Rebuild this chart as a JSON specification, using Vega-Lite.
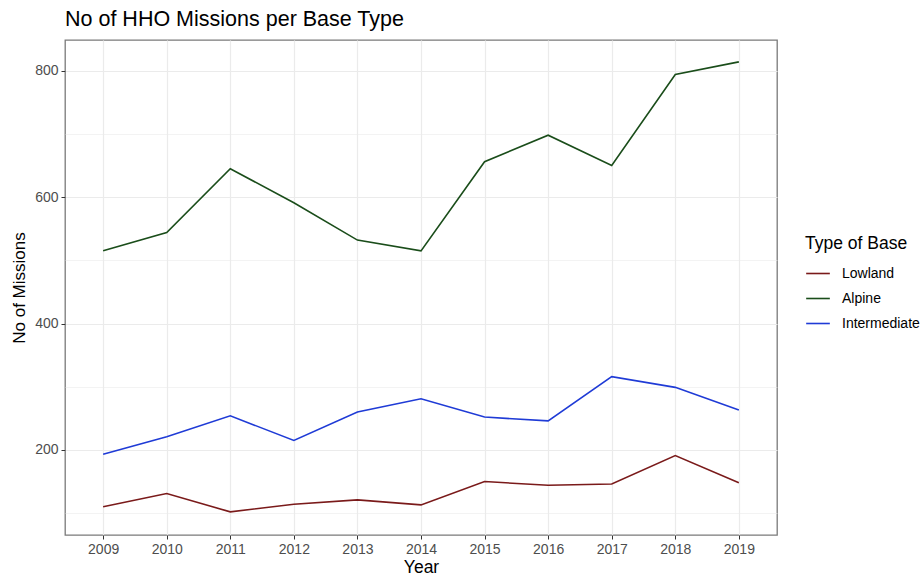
{
  "$schema": "https://vega.github.io/schema/vega-lite/v6.json",
  "width": 712,
  "height": 495,
  "autosize": {"type": "none"},
  "padding": {"left": 65, "top": 40, "right": 145, "bottom": 43},
  "background": "white",
  "title": {"text": "No of HHO Missions per Base Type", "anchor": "start", "frame": "group", "fontSize": 21.5, "font": "Liberation Sans", "fontWeight": "normal", "color": "#000000", "offset": 10},
  "config": {
    "font": "Liberation Sans",
    "view": {"stroke": "#7a7a7a", "strokeWidth": 1.3}
  },
  "data": {
    "values": [
      {"Year": 2009, "Base": "Lowland", "Missions": 110},
      {"Year": 2010, "Base": "Lowland", "Missions": 131},
      {"Year": 2011, "Base": "Lowland", "Missions": 102},
      {"Year": 2012, "Base": "Lowland", "Missions": 114},
      {"Year": 2013, "Base": "Lowland", "Missions": 121},
      {"Year": 2014, "Base": "Lowland", "Missions": 113},
      {"Year": 2015, "Base": "Lowland", "Missions": 150},
      {"Year": 2016, "Base": "Lowland", "Missions": 144},
      {"Year": 2017, "Base": "Lowland", "Missions": 146},
      {"Year": 2018, "Base": "Lowland", "Missions": 191},
      {"Year": 2019, "Base": "Lowland", "Missions": 148},
      {"Year": 2009, "Base": "Alpine", "Missions": 515},
      {"Year": 2010, "Base": "Alpine", "Missions": 544},
      {"Year": 2011, "Base": "Alpine", "Missions": 645},
      {"Year": 2012, "Base": "Alpine", "Missions": 591},
      {"Year": 2013, "Base": "Alpine", "Missions": 532},
      {"Year": 2014, "Base": "Alpine", "Missions": 515},
      {"Year": 2015, "Base": "Alpine", "Missions": 656},
      {"Year": 2016, "Base": "Alpine", "Missions": 698},
      {"Year": 2017, "Base": "Alpine", "Missions": 650},
      {"Year": 2018, "Base": "Alpine", "Missions": 794},
      {"Year": 2019, "Base": "Alpine", "Missions": 814},
      {"Year": 2009, "Base": "Intermediate", "Missions": 193},
      {"Year": 2010, "Base": "Intermediate", "Missions": 221},
      {"Year": 2011, "Base": "Intermediate", "Missions": 254},
      {"Year": 2012, "Base": "Intermediate", "Missions": 215},
      {"Year": 2013, "Base": "Intermediate", "Missions": 260},
      {"Year": 2014, "Base": "Intermediate", "Missions": 281},
      {"Year": 2015, "Base": "Intermediate", "Missions": 252},
      {"Year": 2016, "Base": "Intermediate", "Missions": 246},
      {"Year": 2017, "Base": "Intermediate", "Missions": 316},
      {"Year": 2018, "Base": "Intermediate", "Missions": 299},
      {"Year": 2019, "Base": "Intermediate", "Missions": 263}
    ]
  },
  "mark": {"type": "line", "strokeWidth": 1.6},
  "encoding": {
    "x": {
      "field": "Year", "type": "quantitative",
      "scale": {"domain": [2008.4, 2019.6], "nice": false, "zero": false},
      "axis": {
        "title": "Year", "values": [2009, 2010, 2011, 2012, 2013, 2014, 2015, 2016, 2017, 2018, 2019],
        "format": "d", "grid": true, "gridColor": "#ebebeb", "gridWidth": 1.2,
        "domain": false, "tickColor": "#333333", "tickSize": 4, "labelPadding": 3,
        "labelFontSize": 14, "labelColor": "#4d4d4d", "labelFlush": false,
        "titleFontSize": 17.5, "titleFontWeight": "normal", "titleColor": "#000000", "titlePadding": 2
      }
    },
    "y": {
      "field": "Missions", "type": "quantitative",
      "scale": {"domain": [65.4, 848.6], "nice": false, "zero": false},
      "axis": {
        "title": "No of Missions", "values": [100, 200, 300, 400, 500, 600, 700, 800],
        "labelExpr": "datum.value % 200 === 0 ? datum.label : ''",
        "grid": true, "gridColor": "#ebebeb",
        "gridWidth": {"condition": {"test": "datum.value % 200 === 0", "value": 1.2}, "value": 0.6},
        "tickOpacity": {"condition": {"test": "datum.value % 200 === 0", "value": 1}, "value": 0},
        "domain": false, "tickColor": "#333333", "tickSize": 4, "labelPadding": 3,
        "labelFontSize": 14, "labelColor": "#4d4d4d", "labelFlush": false,
        "titleFontSize": 17, "titleFontWeight": "normal", "titleColor": "#000000", "titlePadding": 6
      }
    },
    "color": {
      "field": "Base", "type": "nominal",
      "scale": {"domain": ["Lowland", "Alpine", "Intermediate"], "range": ["#7a1a1a", "#1a4d1a", "#1f3bd6"]},
      "legend": {
        "title": "Type of Base", "orient": "none", "legendX": 740, "legendY": 195,
        "titleFontSize": 17.5, "titleFontWeight": "normal", "titleColor": "#000000", "titlePadding": 8,
        "labelFontSize": 14, "labelColor": "#000000", "labelOffset": 11,
        "symbolType": "stroke", "symbolSize": 560, "symbolStrokeWidth": 1.6, "rowPadding": 5
      }
    }
  }
}
